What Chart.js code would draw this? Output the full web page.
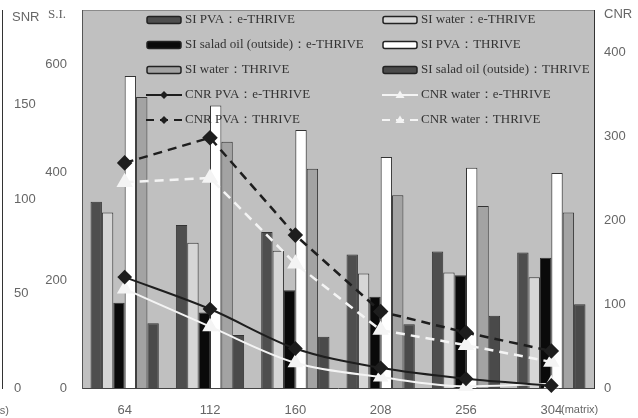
<!DOCTYPE html>
<html>
<head>
<meta charset="utf-8">
<script src="https://cdn.jsdelivr.net/npm/chart.js@4"></script>
<style>
  body { margin: 0; background: #fff; }
  #wrap { position: relative; width: 638px; height: 418px; }
  #legend { position: absolute; left: 0; top: 0; width: 638px; height: 418px; pointer-events: none; }
  .item { position: absolute; height: 16px; white-space: nowrap; }
  .item svg { position: absolute; left: 0; top: 0; }
  .item span { position: absolute; left: 39px; top: -1px; font: 13px "Liberation Serif", serif; color: #333; line-height: 16px; }
</style>
</head>
<body>
<div id="wrap">
  <canvas id="chart" width="638" height="418"></canvas>
  <div id="legend"></div>
</div>
<script>
// matrix size (x axis)
const categories = ['64', '112', '160', '208', '256', '304'];

// S.I. (left axis)
const siPvaE = [345, 302, 289, 247, 253, 251];
const siWaterE = [325, 269, 254, 212, 214, 205];
const siSaladE = [158, 140, 181, 169, 209, 241];
const siPvaT = [578, 523, 478, 428, 408, 398];
const siWaterT = [539, 456, 406, 357, 337, 325];
const siSaladT = [120, 98, 95, 118, 134, 155];

// CNR (right axis)
const cnrPvaE = [132, 94, 47, 24, 11, 3];
const cnrWaterE = [118, 73, 30, 13, 2, 5];
const cnrPvaT = [268, 298, 182, 91, 66, 44];
const cnrWaterT = [245, 250, 148, 69, 51, 31];

// tick labels
const siTicks = [0, 200, 400, 600];
const cnrTicks = [0, 100, 200, 300, 400];
const snrTicks = [0, 50, 100, 150];

const seriesNames = [
    'SI PVA：e-THRIVE', 'SI water：e-THRIVE',
    'SI salad oil (outside)：e-THRIVE', 'SI PVA：THRIVE',
    'SI water：THRIVE', 'SI salad oil (outside)：THRIVE',
    'CNR PVA：e-THRIVE', 'CNR water：e-THRIVE',
    'CNR PVA：THRIVE', 'CNR water：THRIVE'
];

const barColors = ['#4e4e4e', '#d6d6d6', '#0a0a0a', '#ffffff', '#a3a3a3', '#4a4a4a'];

function barSet(i, data) {
    return {
        type: 'bar',
        label: seriesNames[i],
        data: data,
        backgroundColor: barColors[i],
        borderColor: '#333',
        borderWidth: 1,
        yAxisID: 'y',
        order: 1,
        categoryPercentage: 0.8,
        barPercentage: 1.0
    };
}

function lineSet(i, data, color, dash, point, radius) {
    const ds = {
        type: 'line',
        label: seriesNames[i],
        data: data,
        borderColor: color,
        backgroundColor: color,
        borderWidth: dash.length ? 2.5 : 2,
        borderDash: dash,
        pointStyle: point,
        pointRadius: radius,
        pointBorderColor: color,
        pointBackgroundColor: color,
        tension: 0,
        yAxisID: 'y2',
        order: 0,
        clip: false
    };
    // the solid lines are smoothed in the original, the dashed ones are not
    if (!dash.length) ds.cubicInterpolationMode = 'monotone';
    return ds;
}

const datasets = [
    barSet(0, siPvaE),
    barSet(1, siWaterE),
    barSet(2, siSaladE),
    barSet(3, siPvaT),
    barSet(4, siWaterT),
    barSet(5, siSaladT),
    lineSet(6, cnrPvaE, '#1e1e1e', [], 'rectRot', 6),
    lineSet(7, cnrWaterE, '#f4f4f4', [], 'triangle', 7),
    lineSet(8, cnrPvaT, '#1e1e1e', [9, 6], 'rectRot', 6),
    lineSet(9, cnrWaterT, '#f4f4f4', [9, 6], 'triangle', 7)
];

const decor = {
    id: 'decor',
    beforeDraw(chart) {
        const a = chart.chartArea;
        const ctx = chart.ctx;
        ctx.save();
        ctx.fillStyle = '#c0c0c0';
        ctx.fillRect(a.left, a.top, a.right - a.left, a.bottom - a.top);
        ctx.strokeStyle = '#8a8a8a';
        ctx.lineWidth = 1;
        ctx.beginPath();
        ctx.moveTo(a.left, a.top + 0.5);
        ctx.lineTo(a.right, a.top + 0.5);
        ctx.stroke();
        ctx.restore();
    },
    afterDraw(chart) {
        const ctx = chart.ctx;
        ctx.save();
        ctx.fillStyle = '#666';
        ctx.textBaseline = 'middle';
        ctx.font = '13px "Liberation Sans"';
        ctx.textAlign = 'left';
        ctx.fillText('SNR', 12, 17);
        ctx.fillText('CNR', 604, 14);
        ctx.font = '13px "Liberation Serif"';
        ctx.fillText('S.I.', 48, 15);
        ctx.font = '11px "Liberation Sans"';
        ctx.fillText('(matrix)', 561, 410);
        ctx.textAlign = 'right';
        ctx.fillText('(s)', 9, 411);
        ctx.restore();
    }
};

Chart.defaults.font.family = '"Liberation Sans", sans-serif';
Chart.defaults.font.size = 13;
Chart.defaults.color = '#666';

// fixed axis sizes so the plot area lands at 82..594 x 10..388
function fixSize(w, h) {
    return s => {
        if (w !== null) s.width = w;
        if (h !== null) s.height = h;
        s.paddingTop = 0;
        s.paddingBottom = 0;
        s.paddingLeft = 0;
        s.paddingRight = 0;
    };
}

new Chart(document.getElementById('chart'), {
    data: { labels: categories, datasets: datasets },
    options: {
        responsive: false,
        animation: false,
        layout: { padding: { top: 10, left: 0, right: 0, bottom: 0 } },
        plugins: { legend: { display: false }, tooltip: { enabled: false } },
        scales: {
            x: {
                grid: { display: false, drawTicks: false },
                border: { display: true, color: '#444' },
                ticks: { padding: 15 },
                afterFit: fixSize(null, 30)
            },
            y: {
                position: 'left',
                weight: 0,
                min: 0,
                max: 700,
                grid: { display: false, drawTicks: false },
                border: { display: true, color: '#555' },
                ticks: { padding: 15 },
                afterBuildTicks: s => { s.ticks = siTicks.map(v => ({ value: v })); },
                afterFit: fixSize(80, null)
            },
            snr: {
                position: 'left',
                weight: 10,
                min: 0,
                max: 200,
                grid: { display: false, drawTicks: false },
                border: { display: true, color: '#333' },
                ticks: { mirror: true, padding: 12, crossAlign: 'near' },
                afterBuildTicks: s => { s.ticks = snrTicks.map(v => ({ value: v })); },
                afterFit: fixSize(2, null)
            },
            y2: {
                position: 'right',
                min: 0,
                max: 450,
                grid: { display: false, drawTicks: false },
                border: { display: true, color: '#333' },
                ticks: { padding: 10 },
                afterBuildTicks: s => { s.ticks = cnrTicks.map(v => ({ value: v })); },
                afterFit: fixSize(44, null)
            }
        }
    },
    plugins: [decor]
});

// legend drawn as html on top of the plot area, two columns row by row
function swatch(i) {
    const ds = datasets[i];
    if (ds.type === 'bar') {
        return `<rect x="1" y="4.5" width="34" height="7" rx="2" fill="${ds.backgroundColor}" stroke="#222" stroke-width="1.5"/>`;
    }
    const dash = ds.borderDash.length ? 'stroke-dasharray="8,6"' : '';
    let marker;
    if (ds.pointStyle === 'rectRot') {
        marker = `<polygon points="18,4 22,8 18,12 14,8" fill="${ds.borderColor}"/>`;
    } else {
        marker = `<polygon points="18,3.5 22.5,11 13.5,11" fill="${ds.borderColor}"/>`;
    }
    return `<line x1="0" y1="8" x2="36" y2="8" stroke="${ds.borderColor}" stroke-width="2" ${dash}/>` + marker;
}

const legend = document.getElementById('legend');
seriesNames.forEach((name, i) => {
    const col = i % 2;
    const row = Math.floor(i / 2);
    const item = document.createElement('div');
    item.className = 'item';
    item.style.left = (col ? 382 : 146) + 'px';
    item.style.top = (19.5 + 25.2 * row - 8) + 'px';
    item.innerHTML = `<svg width="37" height="16">${swatch(i)}</svg><span>${name}</span>`;
    legend.appendChild(item);
});
</script>
</body>
</html>
